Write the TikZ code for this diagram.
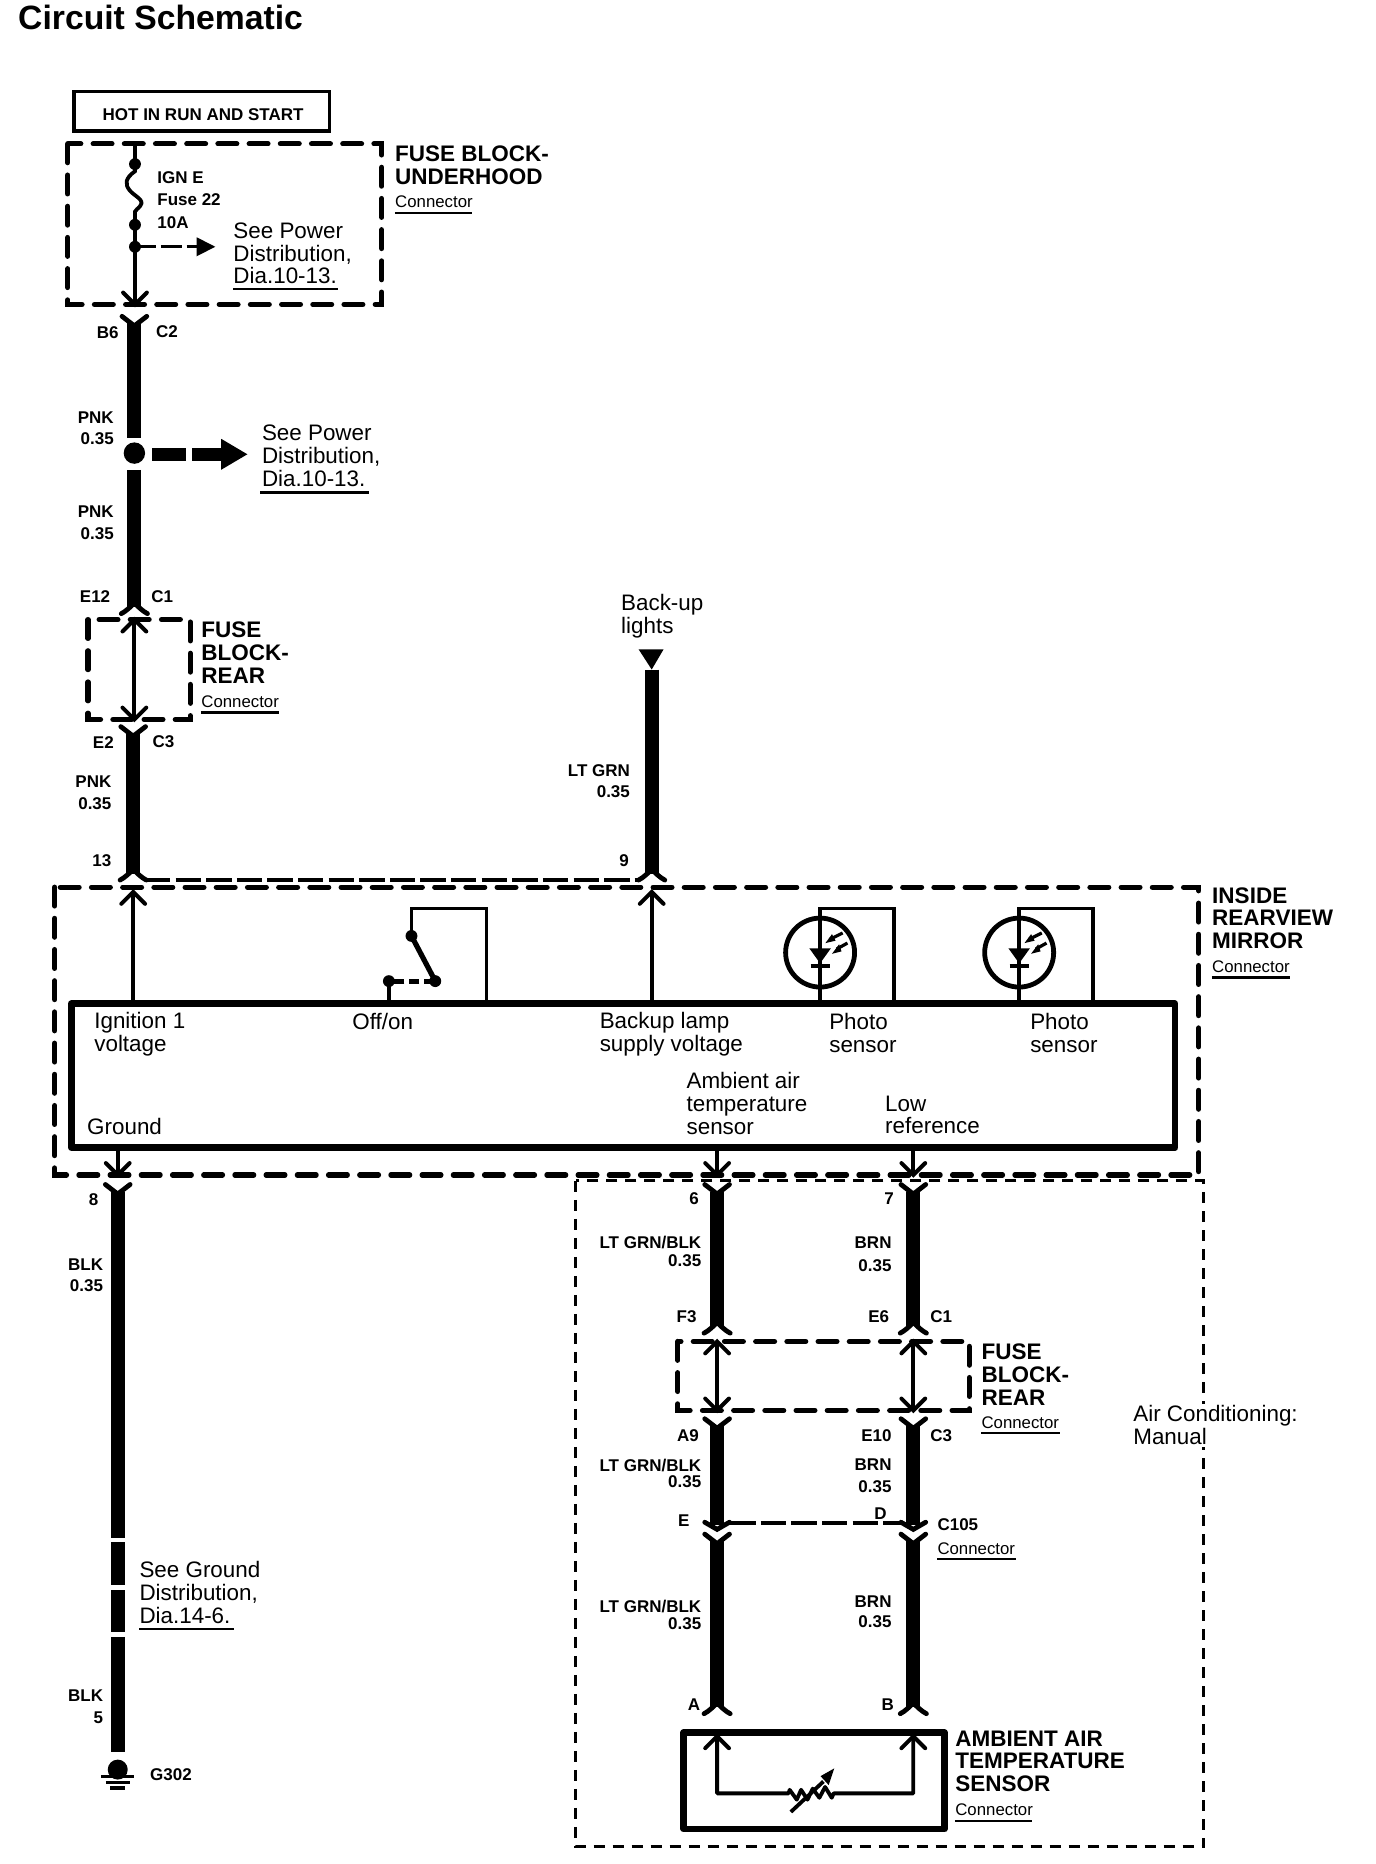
\documentclass[tikz,border=0pt]{standalone}
\usepackage{fontspec}
\setmainfont{Liberation Sans}
\usetikzlibrary{calc}
\tikzset{
  thick wire/.style={line width=7pt},
  thin wire/.style={line width=1.9pt},
  pin/.style={line width=2.4pt,line cap=round,line join=round},
  bigdash/.style={line width=2.6pt,line cap=round,line join=miter,dash pattern=on 9.4pt off 6.2pt},
  areadash/.style={line width=1.5pt,dash pattern=on 5.5pt off 4pt},
  middash/.style={line width=1.6pt,dash pattern=on 12.7pt off 2.6pt},
  solidbox/.style={line width=3.4pt,line join=round},
  name line/.style={line width=1.2pt},
  txt/.style={inner sep=0pt,anchor=west,align=left,font=\fontsize{11.2}{11.4}\selectfont},
  head/.style={inner sep=0pt,anchor=west,align=left,font=\fontsize{11.25}{11.4}\selectfont\bfseries},
  small/.style={inner sep=0pt,anchor=west,font=\fontsize{8.5}{10}\selectfont\bfseries},
  smallr/.style={inner sep=0pt,anchor=east,font=\fontsize{8.5}{10}\selectfont\bfseries},
  conn/.style={inner sep=0pt,anchor=west,font=\fontsize{8.4}{10}\selectfont},
  forktop/.pic={\draw[pin] (-10.4,0)--(0,8)--(10.4,0);},
  forkbot/.pic={\draw[pin] (-11,0) .. controls (-7,-2) and (-3,-6) .. (0,-9) .. controls (3,-6) and (7,-2) .. (11,0);},
  vend/.pic={\draw[pin,line join=miter] (-10.4,-5)--(0,1)--(10.4,-5);},
  arrowup/.pic={\draw[line width=2pt,line cap=round] (-10,10)--(0,0)--(10,10);},
  arrowdn/.pic={\draw[line width=2pt,line cap=round] (-10,-10)--(0,0)--(10,-10);},
}
% thick wire between two named coordinates
\newcommand\hwire[4]{\coordinate (#1a) at (#2,#3);\coordinate (#1b) at (#2,#4);\draw[thick wire] (#1a)--(#1b);}
% thin arrow line: in-box stub with open head at its end
\newcommand\stub[5]{\coordinate (#1a) at (#2,#3);\coordinate (#1b) at (#2,#4);\draw[thin wire] (#1a)--(#1b);\path (#1b) pic {#5};}
\newcommand\cnlab[5]{\node[conn] (#1) at (#2,#3) {Connector};\coordinate (#1l) at (#2,#4);\coordinate (#1r) at (#5,#4);\draw[name line] (#1l)--(#1r);}
\begin{document}
\begin{tikzpicture}[x=0.5946pt,y=-0.5946pt]
\useasboundingbox (0,0) rectangle (1157,1567.4);
\node[inner sep=0pt,anchor=west,font=\fontsize{16.85}{20}\selectfont\bfseries] (title) at (15,15) {Circuit Schematic};
% hot box
\coordinate (hot1) at (62,77); \coordinate (hot2) at (277,110);
\draw[line width=1.9pt] (hot1) rectangle (hot2);
\node[small] (hottxt) at (86,96) {HOT IN RUN AND START};
% underhood
\coordinate (uh1) at (57,121); \coordinate (uh2) at (321,256);
\draw[bigdash] (uh1) rectangle (uh2);
\coordinate (f0) at (113.5,121); \coordinate (f1) at (113.5,138); \coordinate (fa) at (113.5,144); \coordinate (fb) at (113.5,178); \coordinate (f2) at (113.5,189); \coordinate (f3) at (113.5,207.5); \coordinate (f4) at (113.5,256);
\draw[thin wire] (f0)--(fa) .. controls (105,150) and (105,155) .. (109,160) .. controls (113,165) and (122,168) .. (118,173) .. controls (116,176) and (114,176) .. (fb)--(f2)--(f3)--(f4);
\foreach \p in {f1,f2,f3} \fill (\p) circle (5);
\path (f4) pic {arrowdn};
\coordinate (da) at (113.5,207.5); \coordinate (db) at (165.4,207.5);
\draw[middash,dash pattern=on 10.7pt off 2.2pt] (da)--(db);
\coordinate (dt) at (181,207.5);
\fill (dt)--(165.4,199.5)--(165.4,215.5)--cycle;
\node[small] (ign) at (132,149) {IGN E};
\node[small] (fu22) at (132,168) {Fuse 22};
\node[small] (fu10) at (132,187) {10A};
\node[txt] (sp1) at (196,213) {See Power\\Distribution,\\Dia.10-13.};
\coordinate (sp1l) at (196,243); \coordinate (sp1r) at (284,243); \draw[name line] (sp1l)--(sp1r);
\node[head] (uhn) at (332,139) {FUSE BLOCK-\\UNDERHOOD};
\cnlab{uhc}{332}{170}{179}{397}
% wire 1
\hwire{w1}{113}{272}{368}
\path (113,266) pic {forktop};
\node[small,anchor=east] (b6) at (100,280) {B6};
\node[small] (c2) at (131,279) {C2};
\node[smallr] (pnk1) at (96,351) {PNK};
\node[smallr] (v1) at (96,369) {0.35};
\fill (113,381) coordinate (sp) circle (9);
\hwire{w2}{113}{395}{510}
\path (113,516) pic {forkbot};
\node[smallr] (pnk2) at (96,430) {PNK};
\node[smallr] (v2) at (96,449) {0.35};
\coordinate (ta) at (128,382); \coordinate (tb) at (186,382);
\draw[line width=6.5pt,dash pattern=on 17pt off 3pt] (ta)--(tb);
\fill (208,382)--(186,369)--(186,395)--cycle;
\node[txt] (sp2) at (220,383.5) {See Power\\Distribution,\\Dia.10-13.};
\coordinate (sp2l) at (219,414); \coordinate (sp2r) at (310,414); \draw[name line] (sp2l)--(sp2r);
\node[smallr] (e12) at (93,502) {E12};
\node[small] (c1a) at (127,502) {C1};
% fuse block rear 1
\coordinate (r1a) at (74,521); \coordinate (r1b) at (160,605);
\draw[bigdash] (r1a) rectangle (r1b);
\coordinate (r1t) at (113,521); \coordinate (r1u) at (113,605);
\draw[thin wire] (r1t)--(r1u); \path (r1t) pic {arrowup}; \path (r1u) pic {arrowdn};
\node[head] (r1n) at (169,549) {FUSE\\BLOCK-\\REAR};
\cnlab{r1c}{169}{590}{599}{235}
% wire 2
\path (112,611) pic {forktop};
\hwire{w3}{112}{617}{735}
\path (112,740) pic {forkbot};
\node[smallr] (e2) at (96,624) {E2};
\node[small] (c3a) at (128,624) {C3};
\node[smallr] (pnk3) at (94,657) {PNK};
\node[smallr] (v3) at (94,676) {0.35};
\node[smallr] (n13) at (94,724) {13};
\coordinate (la) at (122,740); \coordinate (lb) at (537,740);
\draw[middash] (la)--(lb);
% backup
\node[txt] (bul) at (522,518) {Back-up\\lights};
\fill (537,546)--(558,546)--(548,563) coordinate (bt)--cycle;
\hwire{w4}{548}{563}{735}
\path (548,740) pic {forkbot};
\node[smallr] (lg) at (530,648) {LT GRN};
\node[smallr] (v4) at (530,666) {0.35};
\node[smallr] (n9) at (529,724) {9};
% mirror
\coordinate (m1) at (46,746); \coordinate (m2) at (1008,988);
\draw[bigdash] (m1) rectangle (m2);
\node[head] (mn) at (1019,772) {INSIDE\\REARVIEW\\MIRROR};
\cnlab{mc}{1019}{813}{822}{1085}
\stub{ig}{112}{844}{750}{arrowup}
\stub{bk}{548}{844}{750}{arrowup}
% switch
\coordinate (s1) at (409,844); \coordinate (s2) at (409,764); \coordinate (s3) at (346,764); \coordinate (s4) at (346,787); \coordinate (s5) at (366,825); \coordinate (s6) at (327,825); \coordinate (s7) at (327,844);
\draw[thin wire] (s1)--(s2)--(s3)--(s4);
\draw[line width=2.6pt] (s4)--(s5);
\draw[line width=2.5pt,dash pattern=on 5.5pt off 2.4pt on 5.2pt off 2.4pt on 7.2pt off 0pt] (s5)--(s6);
\draw[thin wire] (s6)--(s7);
\foreach \p in {s4,s5,s6} \fill (\p) circle (5);
% photo sensors
\foreach \cx/\rx/\nm in {689.6/752/a,857/919/b}{
  \coordinate (ps\nm0) at (\cx,844); \coordinate (ps\nm1) at (\cx,764); \coordinate (ps\nm2) at (\rx,764); \coordinate (ps\nm3) at (\rx,844);
  \draw[thin wire] (ps\nm0)--(ps\nm1)--(ps\nm2)--(ps\nm3);
  \draw[line width=2.4pt] (\cx,801) circle (29);
  \fill (\cx-9,797.5)--(\cx+9,797.5)--(\cx,810)--cycle;
  \draw[line width=2pt] (\cx-8,812)--(\cx+8,812);
  \draw[line width=1.6pt] (\cx+8,790)--(\cx+19,784.5);
  \fill (\cx+4.5,793)--(\cx+10,785.5)--(\cx+13,791)--cycle;
  \draw[line width=1.6pt] (\cx+14,798)--(\cx+23,793);
  \fill (\cx+10,802)--(\cx+16,794)--(\cx+18,800)--cycle;
}
% module box
\coordinate (mod1) at (60,844); \coordinate (mod2) at (988,965);
\draw[solidbox] (mod1) rectangle (mod2);
\node[txt] (t1) at (79,869.5) {Ignition 1\\voltage};
\node[txt] (t2) at (296,859) {Off/on};
\node[txt] (t3) at (504,869.5) {Backup lamp\\supply voltage};
\node[txt] (t4) at (697,868.5) {Photo\\sensor};
\node[txt] (t5) at (866,868.5) {Photo\\sensor};
\node[txt] (t6) at (577,928) {Ambient air\\temperature\\sensor};
\node[txt] (t7) at (744,937.5) {Low\\reference};
\node[txt] (t8) at (73,947) {Ground};
\stub{g1}{99}{965}{988}{arrowdn}
\stub{g2}{603}{965}{988}{arrowdn}
\stub{g3}{768}{965}{988}{arrowdn}
% ground wire
\path (99,996) pic {forktop};
\hwire{g4}{99}{1002}{1293}
\hwire{g5}{99}{1297}{1333}
\hwire{g6}{99}{1337}{1372.5}
\hwire{g7}{99}{1376.5}{1473}
\node[smallr] (n8) at (83,1009) {8};
\node[smallr] (blk1) at (87,1063) {BLK};
\node[smallr] (v5) at (87,1081) {0.35};
\node[txt] (sg) at (117,1339) {See Ground\\Distribution,\\Dia.14-6.};
\coordinate (sgl) at (117,1370); \coordinate (sgr) at (197,1370); \draw[name line] (sgl)--(sgr);
\node[smallr] (blk2) at (87,1426) {BLK};
\node[smallr] (n5) at (87,1444) {5};
\coordinate (gd) at (99,1488);
\fill (gd) circle (8.4);
\draw[line width=1.6pt] (85,1494)--(113,1494);
\draw[line width=1.6pt] (89,1499)--(109,1499);
\draw[line width=1.6pt] (92.5,1503.5)--(105.5,1503.5);
\node[small] (g302) at (126,1492) {G302};
% area
\coordinate (ar1) at (484,993); \coordinate (ar2) at (1012,1553);
\draw[areadash] (ar1) rectangle (ar2);
\node[txt,fill=white,inner sep=1pt] (ac) at (951,1198.5) {Air Conditioning:\\Manual};
% sensor wires
\path (603,996) pic {forktop};
\hwire{a1}{603}{1002}{1115}
\path (603,1121) pic {forkbot};
\path (768,996) pic {forktop};
\hwire{b1}{768}{1002}{1115}
\path (768,1121) pic {forkbot};
\node[smallr] (n6) at (588,1008) {6};
\node[smallr] (n7) at (752,1008) {7};
\node[smallr] (lgb1) at (590,1045) {LT GRN/BLK};
\node[smallr] (v6) at (590,1060) {0.35};
\node[smallr] (brn1) at (750,1045) {BRN};
\node[smallr] (v7) at (750,1064) {0.35};
\node[smallr] (f3) at (586,1107) {F3};
\node[smallr] (e6) at (748,1107) {E6};
\node[small] (c1b) at (782,1107) {C1};
% fuse block rear 2
\coordinate (r2a) at (570,1128); \coordinate (r2b) at (815,1186);
\draw[bigdash] (r2a) rectangle (r2b);
\foreach \x/\nm in {603/p,768/q}{
  \coordinate (r\nm t) at (\x,1128); \coordinate (r\nm u) at (\x,1186);
  \draw[thin wire] (r\nm t)--(r\nm u); \path (r\nm t) pic {arrowup}; \path (r\nm u) pic {arrowdn};
}
\node[head] (r2n) at (825,1156) {FUSE\\BLOCK-\\REAR};
\cnlab{r2c}{825}{1196}{1205}{891}
\path (603,1193) pic {forktop};
\hwire{a2}{603}{1199}{1282}
\path (603,1285) pic {vend};
\path (768,1193) pic {forktop};
\hwire{b2}{768}{1199}{1282}
\path (768,1285) pic {vend};
\node[smallr] (a9) at (588,1207) {A9};
\node[smallr] (e10) at (750,1207) {E10};
\node[small] (c3b) at (782,1207) {C3};
\node[smallr] (lgb2) at (590,1232) {LT GRN/BLK};
\node[smallr] (v8) at (590,1246) {0.35};
\node[smallr] (brn2) at (750,1232) {BRN};
\node[smallr] (v9) at (750,1250) {0.35};
\node[smallr] (e) at (580,1279) {E};
\node[small] (d) at (735,1273) {D};
\coordinate (ed1) at (614,1280.7); \coordinate (ed2) at (760,1280.7);
\draw[middash] (ed1)--(ed2);
\node[small] (c105) at (788,1282) {C105};
\cnlab{c105c}{788}{1302}{1311}{854}
\path (603,1290) pic {forktop};
\hwire{a3}{603}{1296}{1435}
\path (603,1441) pic {forkbot};
\path (768,1290) pic {forktop};
\hwire{b3}{768}{1296}{1435}
\path (768,1441) pic {forkbot};
\node[smallr] (lgb3) at (590,1351) {LT GRN/BLK};
\node[smallr] (v10) at (590,1365) {0.35};
\node[smallr] (brn3) at (750,1347) {BRN};
\node[smallr] (v11) at (750,1364) {0.35};
\node[smallr] (pa) at (589,1433) {A};
\node[smallr] (pb) at (752,1433) {B};
% sensor
\coordinate (sb1) at (575,1457); \coordinate (sb2) at (794,1538);
\draw[solidbox] (sb1) rectangle (sb2);
\coordinate (se1) at (603,1460); \coordinate (se2) at (603,1508); \coordinate (se3) at (663,1508); \coordinate (se4) at (701,1508); \coordinate (se5) at (768,1508); \coordinate (se6) at (768,1460);
\draw[thin wire,line join=round] (se1)--(se2)--(se3)--(664,1505)--(670,1513.3)--(673.6,1505)--(679,1513.3)--(683.4,1504)--(689,1511.7)--(693.8,1502.6)--(699.4,1511.7)--(se4)--(se5)--(se6);
\path (se1) pic {arrowup}; \path (se6) pic {arrowup};
\draw[line width=1.9pt] (665,1523.6)--(692.4,1498);
\fill (701.5,1487)--(690,1493.5)--(696.8,1501)--cycle;
\node[head] (sn) at (803,1481) {AMBIENT AIR\\TEMPERATURE\\SENSOR};
\cnlab{sc}{803}{1522}{1531}{868}
\end{tikzpicture}
\end{document}
